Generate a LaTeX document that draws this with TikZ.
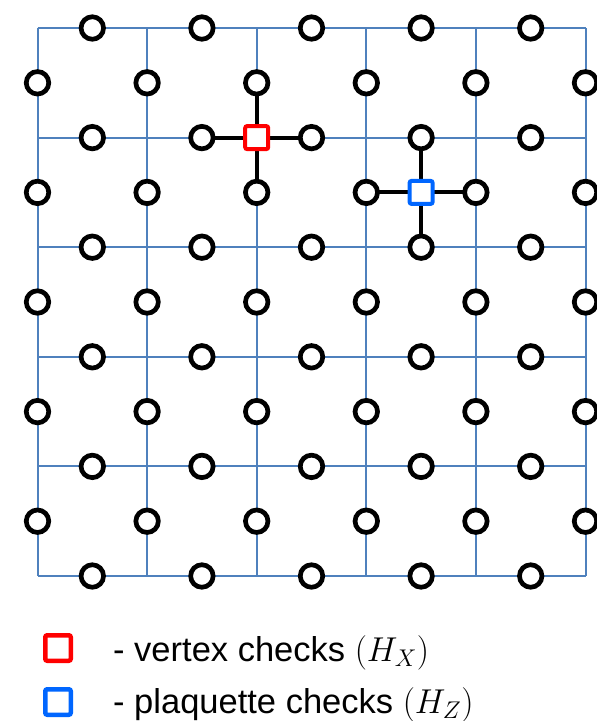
\RequirePackage{fix-cm}
\documentclass[tikz,border=0pt]{standalone}
\usepackage{fontspec}
\setmainfont{Liberation Sans}
\begin{document}
\begin{tikzpicture}[x=1pt,y=-1pt,
  gridline/.style={draw={rgb,255:red,79;green,129;blue,189},line width=2pt},
  qubit/.style={circle,draw=black,fill=white,line width=4.7pt,minimum size=22.5pt,inner sep=0pt},
  checkedge/.style={draw=black,line width=4pt},
  vcheck/.style={rectangle,rounded corners=2pt,draw={rgb,255:red,255;green,0;blue,0},fill=white,line width=4pt,minimum size=23pt,inner sep=0pt},
  pcheck/.style={rectangle,rounded corners=2pt,draw={rgb,255:red,0;green,102;blue,255},fill=white,line width=4pt,minimum size=23pt,inner sep=0pt},
  legendbox/.style={rectangle,rounded corners=2pt,line width=4.5pt,minimum size=25.5pt,inner sep=0pt},
  legendtext/.style={anchor=base west,inner sep=0pt,font=\fontsize{34.5}{40}\selectfont}]
\useasboundingbox (0,0) rectangle (597,721);
\def\sp{109.6}
\def\xo{37.5}
\def\yo{28}
% square lattice
\foreach \i in {0,...,5}{
  \draw[gridline] (\xo+\i*\sp,\yo) -- (\xo+\i*\sp,\yo+5*\sp);
  \draw[gridline] (\xo,\yo+\i*\sp) -- (\xo+5*\sp,\yo+\i*\sp);
}
% qubits on horizontal edges
\foreach \i in {0,...,4}{
  \foreach \j in {0,...,5}{
    \path (\xo+\i*\sp+0.5*\sp,\yo+\j*\sp) coordinate (h-\i-\j);
  }
}
% qubits on vertical edges
\foreach \i in {0,...,5}{
  \foreach \j in {0,...,4}{
    \path (\xo+\i*\sp,\yo+\j*\sp+0.5*\sp) coordinate (v-\i-\j);
  }
}
% check positions
\coordinate (vx) at (\xo+2*\sp,\yo+1*\sp);
\coordinate (pz) at (\xo+3.5*\sp,\yo+1.5*\sp);
% check supports
\draw[checkedge] (vx) -- (h-1-1);
\draw[checkedge] (vx) -- (h-2-1);
\draw[checkedge] (vx) -- (v-2-0);
\draw[checkedge] (vx) -- (v-2-1);
\draw[checkedge] (pz) -- (h-3-1);
\draw[checkedge] (pz) -- (h-3-2);
\draw[checkedge] (pz) -- (v-3-1);
\draw[checkedge] (pz) -- (v-4-1);
% qubit circles
\foreach \i in {0,...,4}{
  \foreach \j in {0,...,5}{
    \node[qubit] (qh-\i-\j) at (h-\i-\j) {};
  }
}
\foreach \i in {0,...,5}{
  \foreach \j in {0,...,4}{
    \node[qubit] (qv-\i-\j) at (v-\i-\j) {};
  }
}
% checks
\node[vcheck] (vxbox) at (vx) {};
\node[pcheck] (pzbox) at (pz) {};
% legend
\node[legendbox,draw={rgb,255:red,255;green,0;blue,0}] (legx) at (58,648) {};
\node[legendbox,draw={rgb,255:red,0;green,102;blue,255}] (legz) at (58,702) {};
\node[legendtext] (txtx) at (113,661) {- vertex checks \((H_X)\)};
\node[legendtext] (txtz) at (113,713) {- plaquette checks \((H_Z)\)};
\end{tikzpicture}
\end{document}
